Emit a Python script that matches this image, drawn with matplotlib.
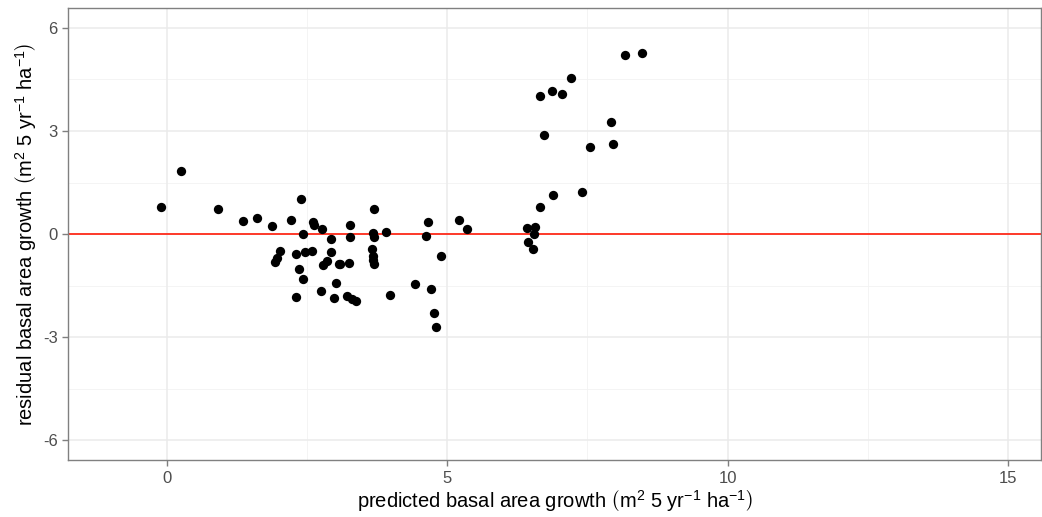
import matplotlib
matplotlib.use("Agg")
import matplotlib.pyplot as plt

plt.rcParams['font.family'] = ['Liberation Sans', 'DejaVu Sans']
plt.rcParams['mathtext.fontset'] = 'custom'
plt.rcParams['mathtext.rm'] = 'Liberation Sans'
plt.rcParams['mathtext.it'] = 'Liberation Sans:italic'
plt.rcParams['axes.unicode_minus'] = False

# predicted vs residual basal area growth
predicted = [-0.11, 0.24, 0.90, 1.35, 1.60, 1.87, 2.21, 2.39, 2.60, 2.62, 2.76, 2.42,
             2.92, 2.02, 1.96, 1.93, 2.29, 2.46, 2.59, 2.93, 2.35, 2.42, 2.30, 2.74,
             2.97, 2.78, 2.85, 3.01, 3.07, 3.27, 3.26, 3.69, 3.67, 3.69, 3.91, 3.65,
             3.67, 3.68, 3.69, 3.09, 3.25, 3.21, 3.30, 3.37, 3.97, 4.43, 4.70, 4.77,
             4.80, 4.65, 4.61, 4.88, 5.20, 5.35, 6.42, 6.57, 6.54, 6.44, 6.53, 6.66,
             6.88, 8.17, 8.48, 7.21, 6.66, 6.86, 7.04, 6.72, 7.54, 7.92, 7.96, 7.41]
residual = [0.80, 1.84, 0.73, 0.37, 0.46, 0.23, 0.41, 1.02, 0.35, 0.27, 0.15, 0.00,
            -0.15, -0.49, -0.71, -0.82, -0.58, -0.53, -0.50, -0.51, -1.02, -1.32, -1.83, -1.65,
            -1.85, -0.90, -0.79, -1.41, -0.87, 0.25, -0.08, 0.73, 0.02, -0.08, 0.07, -0.42,
            -0.64, -0.76, -0.88, -0.87, -0.84, -1.80, -1.90, -1.96, -1.77, -1.44, -1.60, -2.31,
            -2.70, 0.36, -0.06, -0.63, 0.41, 0.15, 0.18, 0.21, -0.01, -0.23, -0.43, 0.78,
            1.13, 5.21, 5.28, 4.53, 4.02, 4.15, 4.07, 2.88, 2.54, 3.27, 2.63, 1.22]

x_ticks = [0, 5, 10, 15]
y_ticks = [-6, -3, 0, 3, 6]

fig = plt.figure(figsize=(10.42, 5.17), dpi=100)
ax = fig.add_axes([0.0653, 0.110, 0.934, 0.8745])

ax.set_xlim(-1.77, 15.6)
ax.set_ylim(-6.58, 6.58)

# theme_bw-like grid
for v in [2.5, 7.5, 12.5]:
    ax.axvline(v, color='#F2F2F2', lw=0.6, zorder=0)
for v in [-4.5, -1.5, 1.5, 4.5]:
    ax.axhline(v, color='#F2F2F2', lw=0.6, zorder=0)
for v in x_ticks:
    ax.axvline(v, color='#EBEBEB', lw=1.1, zorder=0)
for v in y_ticks:
    ax.axhline(v, color='#EBEBEB', lw=1.1, zorder=0)

ax.scatter(predicted, residual, s=45, color='black', zorder=3, linewidths=0)
ax.axhline(0, color='#FF2A1A', lw=1.3, zorder=2)

ax.set_xticks(x_ticks)
ax.set_yticks(y_ticks)
ax.tick_params(colors='#7F7F7F', labelcolor='#4D4D4D', labelsize=12, length=4, width=1)
for s in ax.spines.values():
    s.set_color('#808080')
    s.set_linewidth(1.0)

ax.set_xlabel(r'predicted basal area growth $\left(\mathrm{m}^2\ 5\ \mathrm{yr}^{-1}\ \mathrm{ha}^{-1}\right)$',
              fontsize=14.5, labelpad=2)
ax.set_ylabel(r'residual basal area growth $\left(\mathrm{m}^2\ 5\ \mathrm{yr}^{-1}\ \mathrm{ha}^{-1}\right)$',
              fontsize=14.5, labelpad=3)

fig.savefig('out.png', dpi=100)
